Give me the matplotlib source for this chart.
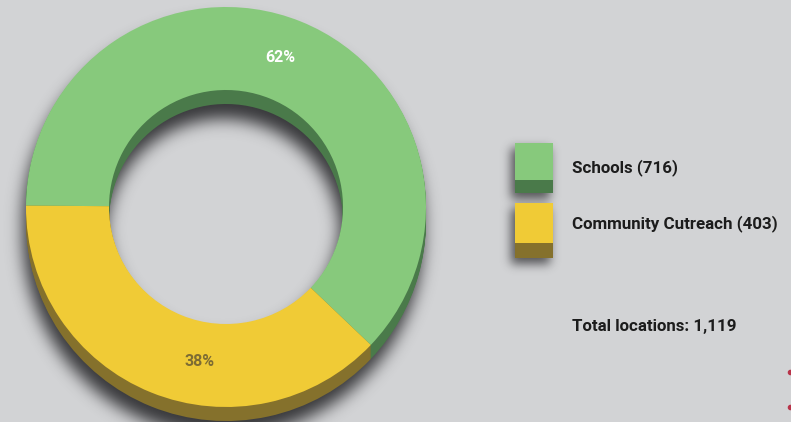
import numpy as np
import matplotlib
matplotlib.use("Agg")
import matplotlib.pyplot as plt
from matplotlib.patches import Rectangle

# data
labels = ["Schools", "Community Cutreach"]
counts = [716, 403]
percents = [62, 38]
total = 1119

colors_top = ["#87c97c", "#f0cb36"]
colors_side = ["#4a7a4a", "#85712c"]
bg = "#d2d3d5"

W, H = 791, 422
fig = plt.figure(figsize=(W / 100, H / 100), dpi=100, facecolor=bg)
ax = fig.add_axes([0, 0, 1, 1])
ax.set_facecolor(bg)

# donut geometry in pixel units (y up)
cx, cy = 226, H - 207
R, r_in = 200, 117
depth = 14
start = -43.6


def blur(a, s):
    k = np.arange(-3 * s, 3 * s + 1)
    g = np.exp(-k ** 2 / (2.0 * s * s))
    g /= g.sum()
    a = np.apply_along_axis(lambda v: np.convolve(v, g, mode="same"), 0, a)
    a = np.apply_along_axis(lambda v: np.convolve(v, g, mode="same"), 1, a)
    return a


# soft shadow under donut and legend boxes
pad = 40
yy, xx = np.mgrid[0:H + 2 * pad, 0:W + 2 * pad]
xx = xx - pad + 0.5
yy = yy - pad + 0.5  # image coords, y down
mask = np.zeros(xx.shape)
sx, sy = -3, 15
for off in np.linspace(0, depth, 8):
    d = np.hypot(xx - (226 + sx), yy - (207 + off + sy))
    mask = np.maximum(mask, ((d <= R) & (d >= r_in)).astype(float))
mask = blur(mask, 8)
mask2 = np.zeros(xx.shape)
for (x0, y0, x1, y1) in [(515, 143, 553, 193), (515, 203, 553, 258)]:
    mask2 = np.maximum(mask2, ((xx >= x0 - 4) & (xx <= x1 - 3) & (yy >= y0 + 5) & (yy <= y1 + 6)).astype(float))
mask2 = blur(mask2, 5)
shadow = np.clip(mask * 0.86 + mask2 * 0.7, 0, 0.9)[pad:-pad, pad:-pad]
img = np.zeros((H, W, 4))
img[..., 0] = 0.12
img[..., 1] = 0.12
img[..., 2] = 0.13
img[..., 3] = shadow
ax.imshow(img, extent=(0, W, 0, H), origin="upper", zorder=0, interpolation="bilinear")

# extruded side
for off in np.arange(depth, 0, -1):
    ax.pie(percents, colors=colors_side, startangle=start, radius=R, center=(cx, cy - off),
           wedgeprops=dict(width=R - r_in, edgecolor="none", linewidth=0), frame=True)
# top face
wedges, _ = ax.pie(percents, colors=colors_top, startangle=start, radius=R, center=(cx, cy),
                   wedgeprops=dict(width=R - r_in, edgecolor="none", linewidth=0), frame=True)
for w in wedges:
    w.set_zorder(5)

ax.text(280, H - 57, f"{percents[0]}%", color="white", fontsize=11.5, fontweight="bold",
        family="Roboto", ha="center", va="center", zorder=6)
ax.text(200, H - 361, f"{percents[1]}%", color="#7d6c33", fontsize=11.5, fontweight="bold",
        family="Roboto", ha="center", va="center", zorder=6)

# legend
boxes = [(515, 143, 180, 193), (515, 203, 243, 258)]
for i, (x0, y0, ym, y1) in enumerate(boxes):
    ax.add_patch(Rectangle((x0, H - ym), 38, ym - y0, facecolor=colors_top[i], edgecolor="none", zorder=5))
    ax.add_patch(Rectangle((x0, H - y1), 38, y1 - ym, facecolor=colors_side[i], edgecolor="none", zorder=5))
text_y = [168, 224]
for i in range(len(labels)):
    ax.text(572, H - text_y[i], f"{labels[i]} ({counts[i]})", color="#1c1c1c", fontsize=12.2,
            fontweight="bold", family="Roboto", ha="left", va="center", zorder=6)
ax.text(572, H - 327, f"Total locations: {total:,}", color="#1c1c1c", fontsize=12.2,
        fontweight="bold", family="Roboto", ha="left", va="center", zorder=6)

# small red marks at right edge
ax.plot([790, 790], [H - 372, H - 407], ls="none", marker="o", ms=3, color="#b8344a", zorder=6)

ax.set_xlim(0, W)
ax.set_ylim(0, H)
ax.set_aspect("auto")
ax.axis("off")
fig.savefig("out.png", dpi=100, facecolor=bg)
